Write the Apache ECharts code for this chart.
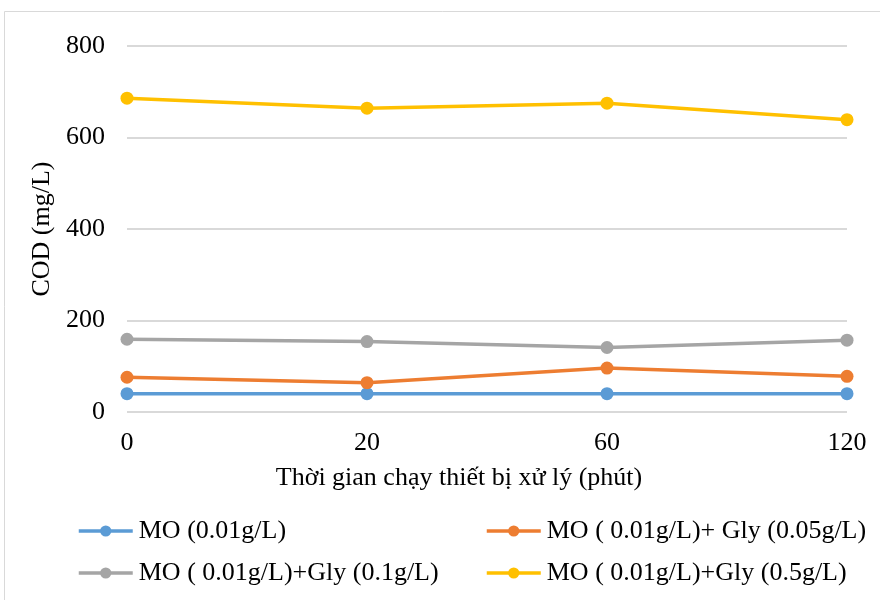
<!DOCTYPE html>
<html>
<head>
<meta charset="utf-8">
<script src="https://cdn.jsdelivr.net/npm/echarts@6/dist/echarts.min.js"></script>
<style>
  html, body { margin: 0; padding: 0; background: #fff; }
  #chart { width: 880px; height: 600px; }
</style>
</head>
<body>
<div id="chart"></div>
<script>
// Treatment time (minutes)
const categories = ['0', '20', '60', '120'];

// COD (mg/L) for each solution
const seriesNames = [
  'MO (0.01g/L)',
  'MO ( 0.01g/L)+ Gly (0.05g/L)',
  'MO ( 0.01g/L)+Gly (0.1g/L)',
  'MO ( 0.01g/L)+Gly (0.5g/L)'
];
const codMO = [40, 40, 40, 40];
const codGly005 = [76, 64, 96, 78];
const codGly01 = [159, 154, 141, 157];
const codGly05 = [686, 664, 675, 639];

const yTicks = { min: 0, max: 800, interval: 200 };
const colors = ['#5b9bd5', '#ed7d31', '#a5a5a5', '#ffc000'];

const FONT = '"Liberation Serif", "Times New Roman", serif';
const values = [codMO, codGly005, codGly01, codGly05];

const series = values.map((data, i) => ({
  name: seriesNames[i],
  type: 'line',
  data: data,
  symbol: 'circle',
  symbolSize: 13,
  lineStyle: { width: 3.5, color: colors[i] },
  itemStyle: { color: colors[i] },
  emphasis: { disabled: true },
  animation: false,
  z: 2 + i
}));

// One legend block per entry, arranged in two columns
const legendPos = [
  { left: 77, top: 518 },
  { left: 485, top: 518 },
  { left: 77, top: 560 },
  { left: 485, top: 560 }
];
const legends = seriesNames.map((name, i) => ({
  data: [name],
  left: legendPos[i].left,
  top: legendPos[i].top,
  padding: 0,
  itemWidth: 54,
  itemHeight: 14,
  itemGap: 0,
  selectedMode: false,
  lineStyle: { width: 3.5 },
  textStyle: { fontFamily: FONT, fontSize: 26, color: '#000', padding: [0, 0, 0, 1] }
}));

const chart = echarts.init(document.getElementById('chart'), null, { renderer: 'canvas' });
chart.setOption({
  backgroundColor: '#fff',
  animation: false,
  color: colors,
  textStyle: { fontFamily: FONT },
  graphic: [{
    type: 'rect',
    shape: { x: 4.5, y: 11.5, width: 900, height: 700 },
    style: { fill: 'none', stroke: '#d9d9d9', lineWidth: 1 },
    silent: true
  }],
  grid: { left: 127, right: 33, top: 46, bottom: 188, containLabel: false },
  legend: legends,
  xAxis: {
    type: 'category',
    data: categories,
    boundaryGap: false,
    name: 'Thời gian chạy thiết bị xử lý (phút)',
    nameLocation: 'middle',
    nameGap: 53,
    nameTextStyle: { fontFamily: FONT, fontSize: 26, color: '#000', padding: [0, 56, 0, 0] },
    axisLine: { show: false },
    axisTick: { show: false },
    axisLabel: { fontFamily: FONT, fontSize: 26, color: '#000', margin: 18 },
    splitLine: { show: false }
  },
  yAxis: {
    type: 'value',
    min: yTicks.min,
    max: yTicks.max,
    interval: yTicks.interval,
    name: 'COD (mg/L)',
    nameLocation: 'middle',
    nameGap: 72,
    nameTextStyle: { fontFamily: FONT, fontSize: 26, color: '#000' },
    axisLine: { show: false },
    axisTick: { show: false },
    axisLabel: { fontFamily: FONT, fontSize: 26, color: '#000', margin: 22 },
    splitLine: { show: true, lineStyle: { color: '#d9d9d9', width: 2 } }
  },
  series: series
});
</script>
</body>
</html>
